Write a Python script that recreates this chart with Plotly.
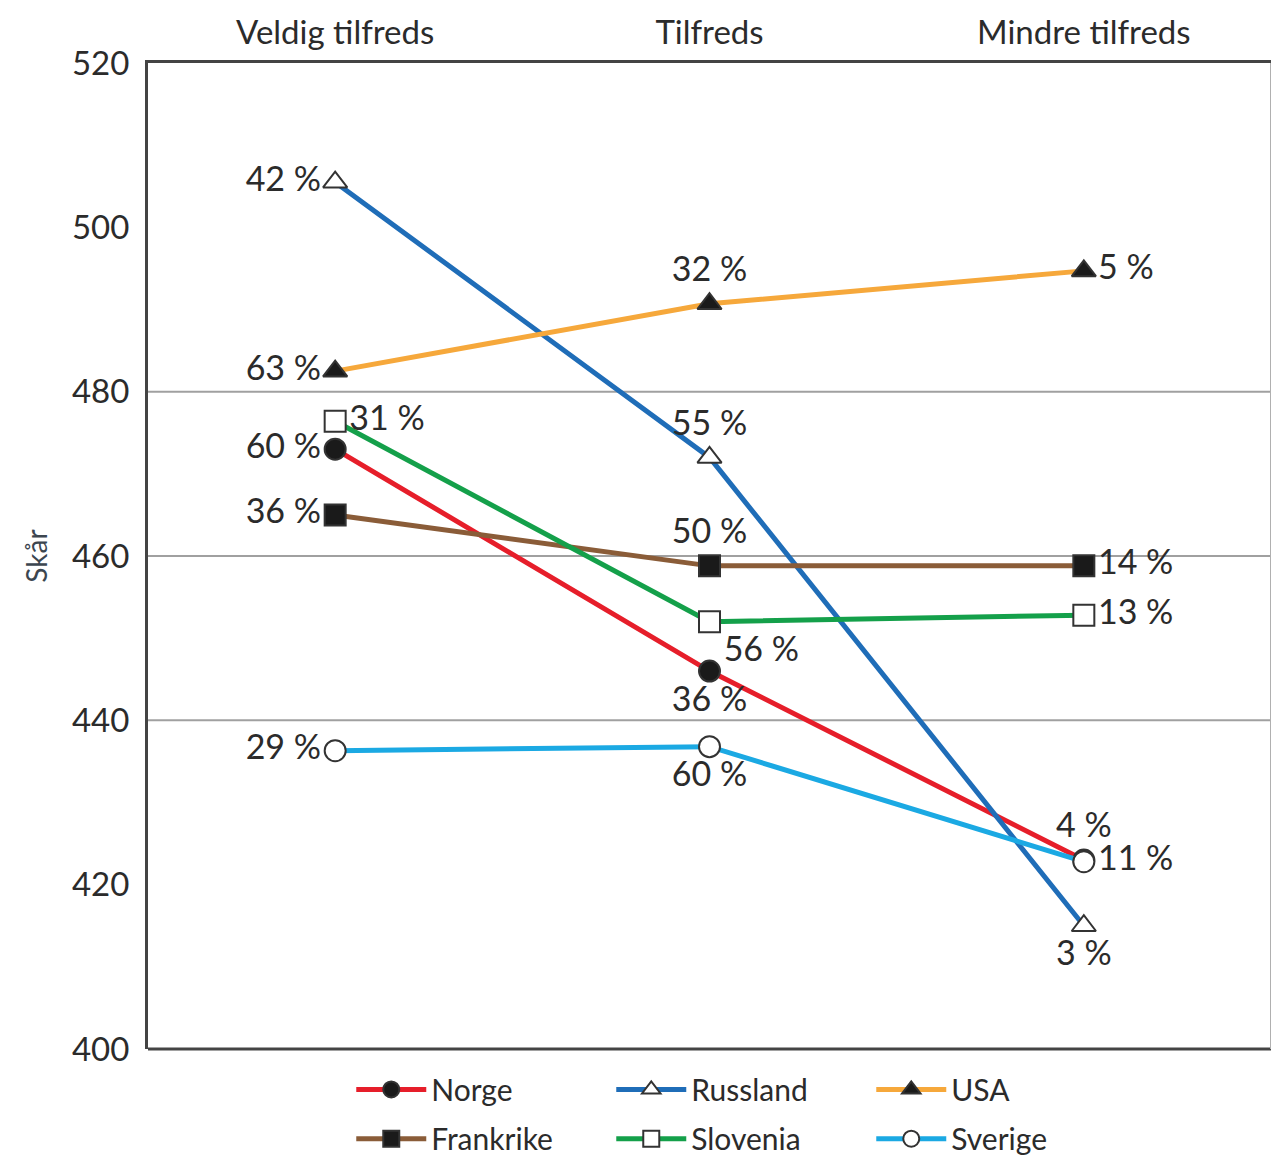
import plotly.graph_objects as go

categories = ['Veldig tilfreds', 'Tilfreds', 'Mindre tilfreds']

countries = ['Norge', 'Russland', 'USA', 'Frankrike', 'Slovenia', 'Sverige']
scores = {
    'Norge': [473, 446, 423],
    'Russland': [505.5, 472, 415],
    'USA': [482.5, 490.7, 494.7],
    'Frankrike': [465, 458.8, 458.8],
    'Slovenia': [476.4, 452, 452.8],
    'Sverige': [436.3, 436.8, 422.8],
}
shares = {
    'Norge': ['60 %', '36 %', '4 %'],
    'Russland': ['42 %', '55 %', '3 %'],
    'USA': ['63 %', '32 %', '5 %'],
    'Frankrike': ['36 %', '50 %', '14 %'],
    'Slovenia': ['31 %', '56 %', '13 %'],
    'Sverige': ['29 %', '60 %', '11 %'],
}
label_pos = {
    'Norge': ['middle left', 'bottom center', 'top center'],
    'Russland': ['middle left', 'top center', 'bottom center'],
    'USA': ['middle left', 'top center', 'middle right'],
    'Frankrike': ['middle left', 'top center', 'middle right'],
    'Slovenia': ['middle right', 'bottom right', 'middle right'],
    'Sverige': ['middle left', 'bottom center', 'middle right'],
}
line_colors = {
    'Norge': '#e61e2a',
    'Russland': '#1f6db8',
    'USA': '#f6a83b',
    'Frankrike': '#8a5c38',
    'Slovenia': '#14a04a',
    'Sverige': '#1ba9e3',
}
markers = {
    'Norge': ('circle', '#1a1a1a'),
    'Russland': ('triangle-up', 'white'),
    'USA': ('triangle-up', '#1a1a1a'),
    'Frankrike': ('square', '#1a1a1a'),
    'Slovenia': ('square', 'white'),
    'Sverige': ('circle', 'white'),
}
# legend row for each country
legend_row = {
    'Norge': 'legend', 'Russland': 'legend', 'USA': 'legend',
    'Frankrike': 'legend2', 'Slovenia': 'legend2', 'Sverige': 'legend2',
}
grid_values = [440, 460, 480]

text_color = '#2b2b2b'
font_family = 'Lato, Open Sans, sans-serif'

fig = go.Figure()
for c in countries:
    symbol, fill = markers[c]
    fig.add_trace(go.Scatter(
        x=categories,
        y=scores[c],
        mode='lines+markers+text',
        name=c,
        legend=legend_row[c],
        text=shares[c],
        textposition=label_pos[c],
        textfont=dict(size=34, color=text_color, family=font_family),
        line=dict(color=line_colors[c], width=5),
        marker=dict(symbol=symbol, size=21, color=fill, line=dict(color='#333333', width=2)),
        cliponaxis=False
    ))

for g in grid_values:
    fig.add_hline(y=g, line=dict(color='#a0a0a0', width=2), layer='below')

# bottom and right frame
fig.add_shape(type='line', xref='paper', yref='paper', x0=0, x1=1, y0=0, y1=0,
              line=dict(color='#444444', width=3))
fig.add_shape(type='line', xref='paper', yref='paper', x0=1, x1=1, y0=0, y1=1,
              line=dict(color='#b0b0b0', width=2))

legend_style = dict(
    orientation='h',
    x=0.181,
    xanchor='left',
    yanchor='middle',
    itemwidth=70,
    entrywidth=175,
    entrywidthmode='pixels',
    font=dict(size=30, color=text_color, family=font_family),
)

# page body has an 8px margin, so the figure is a bit smaller than the window
fig.update_layout(
    width=1263,
    height=1157,
    template='plotly_white',
    plot_bgcolor='white',
    paper_bgcolor='white',
    margin=dict(l=140, r=0, t=55, b=103),
    font=dict(family=font_family, color=text_color),
    legend=dict(y=-0.041, **legend_style),
    legend2=dict(y=-0.091, **legend_style),
)
fig.update_xaxes(
    type='category',
    categoryorder='array',
    categoryarray=categories,
    range=[-0.5, 2.5],
    side='top',
    automargin=False,
    showgrid=False,
    showline=True,
    linecolor='#444444',
    linewidth=3,
    ticks='outside',
    ticklen=3,
    tickcolor='rgba(0,0,0,0)',
    tickfont=dict(size=33, color=text_color, family=font_family)
)
fig.update_yaxes(
    range=[400, 520],
    dtick=20,
    automargin=False,
    showgrid=False,
    zeroline=False,
    showline=True,
    linecolor='#444444',
    linewidth=3,
    ticks='outside',
    ticklen=9,
    tickcolor='rgba(0,0,0,0)',
    tickfont=dict(size=33, color=text_color, family=font_family),
    title=dict(text='Skår', font=dict(size=28, color='#3c4650', family=font_family), standoff=17)
)

fig.write_html("out.html")
